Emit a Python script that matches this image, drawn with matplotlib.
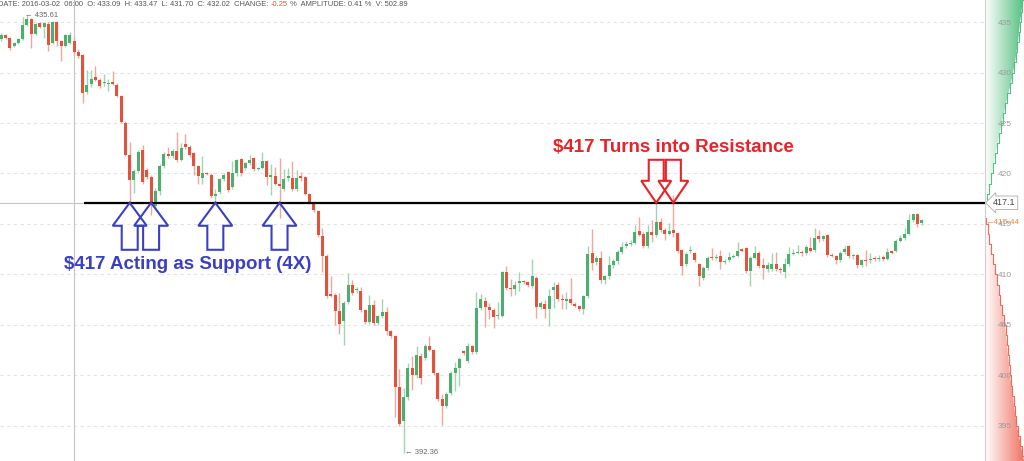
import numpy as np
import matplotlib.pyplot as plt
import matplotlib.transforms as mtransforms
from matplotlib.patches import Polygon
from matplotlib.colors import LinearSegmentedColormap

# OHLC de cada vela (216 velas)
opens = [
    433.3, 433.7, 433.4, 432.6, 432.9, 433.3, 434.7, 435.3, 433.8, 434.9,
    434.5, 434.8, 432.9, 435.0, 433.1, 432.6, 432.9, 433.09, 432.0, 431.7,
    428.1, 428.9, 429.6, 429.3, 428.95, 428.9, 429.05, 428.8, 427.7, 425.0,
    421.8, 419.4, 420.2, 422.3, 420.3, 419.7, 416.8, 418.3, 420.7, 421.9,
    421.7, 422.2, 421.3, 422.9, 422.6, 422.0, 420.7, 419.6, 420.05, 419.9,
    417.8, 418.2, 419.5, 420.1, 418.7, 420.0, 421.4, 420.5, 421.0, 421.5,
    420.45, 420.5, 421.2, 419.7, 419.8, 419.0, 418.5, 419.6, 419.6, 418.5,
    419.8, 419.7, 418.0, 417.2, 416.3, 413.8, 411.8, 408.1, 408.0, 406.4,
    405.4, 407.3, 409.0, 408.45, 408.4, 406.5, 405.3, 407.0, 405.2, 405.9,
    406.3, 404.4, 403.9, 398.9, 395.5, 397.9, 400.7, 400.0, 401.9, 401.7,
    402.9, 402.5, 400.2, 397.7, 397.0, 398.3, 400.2, 400.7, 402.4, 401.4,
    402.9, 402.3, 406.7, 407.4, 406.8, 406.5, 405.85, 405.9, 410.2, 408.7,
    408.6, 409.2, 409.35, 409.3, 408.9, 409.7, 406.8, 407.1, 406.6, 408.5,
    409.0, 407.6, 407.4, 407.6, 407.1, 406.9, 406.6, 407.9, 412.1, 411.2,
    411.6, 409.5, 409.8, 410.9, 411.3, 412.2, 412.8, 413.0, 413.1, 414.3,
    414.0, 412.8, 414.2, 413.9, 415.2, 414.4, 414.0, 414.4, 414.1, 412.4,
    411.0, 412.3, 412.1, 411.0, 409.7, 410.6, 411.75, 411.6, 411.8, 411.25,
    411.4, 411.75, 411.8, 412.5, 412.6, 410.3, 411.6, 412.1, 410.9, 410.5,
    410.5, 411.0, 410.55, 410.2, 411.0, 412.0, 412.15, 412.25, 412.1, 412.6,
    412.4, 413.8, 413.5, 413.9, 411.95, 411.8, 411.4, 412.2, 412.8, 411.8,
    411.9, 410.9, 411.45, 411.4, 411.6, 411.5, 411.7, 411.5, 412.3, 412.3,
    413.3, 413.6, 414.0, 415.4, 416.0, 415.1]
highs = [
    433.9, 433.8, 433.5, 433.0, 433.4, 435.5, 435.61, 435.4, 434.9, 435.0,
    435.0, 435.0, 435.1, 435.1, 433.2, 433.8, 434.0, 433.47, 432.3, 431.8,
    430.2, 430.2, 430.6, 429.5, 429.9, 429.4, 430.1, 429.0, 427.8, 425.2,
    423.1, 420.4, 422.3, 422.8, 420.5, 419.9, 418.6, 420.9, 422.1, 422.6,
    422.4, 424.1, 423.0, 423.9, 422.8, 422.1, 420.8, 421.7, 420.1, 420.0,
    418.5, 419.6, 420.0, 420.2, 421.2, 421.4, 421.5, 421.1, 421.8, 421.6,
    420.6, 422.1, 421.3, 420.9, 420.6, 421.5, 420.4, 420.5, 421.2, 420.3,
    420.1, 419.8, 418.1, 417.3, 416.4, 414.6, 412.0, 409.8, 408.2, 408.2,
    407.4, 410.1, 409.5, 408.8, 408.8, 406.6, 408.0, 407.5, 406.0, 407.6,
    406.8, 404.5, 404.0, 400.6, 398.8, 401.2, 401.9, 402.9, 402.2, 403.1,
    403.9, 402.6, 400.3, 398.2, 398.4, 400.4, 401.3, 401.8, 402.5, 403.2,
    403.0, 408.3, 408.1, 407.8, 407.2, 406.7, 407.3, 410.3, 410.8, 409.6,
    409.4, 410.2, 409.5, 409.4, 411.5, 409.8, 407.4, 407.5, 408.6, 409.3,
    409.3, 408.1, 408.3, 409.7, 407.3, 407.0, 408.0, 412.8, 414.5, 411.8,
    412.3, 409.9, 411.8, 411.5, 412.4, 413.2, 413.3, 413.4, 414.9, 415.7,
    414.2, 414.9, 415.4, 417.05, 415.6, 414.6, 415.1, 417.9, 414.2, 412.5,
    412.2, 412.8, 412.2, 411.1, 410.8, 411.8, 412.6, 412.0, 412.4, 411.5,
    412.2, 412.0, 413.2, 412.6, 412.7, 411.8, 412.8, 412.3, 411.6, 411.2,
    412.1, 412.2, 410.7, 411.6, 412.7, 412.5, 412.9, 412.4, 412.9, 413.7,
    414.6, 414.4, 413.9, 414.0, 412.1, 411.9, 412.3, 412.8, 412.9, 412.0,
    412.0, 411.5, 412.4, 412.1, 411.8, 411.9, 411.9, 412.6, 412.4, 413.5,
    413.9, 414.6, 416.0, 416.0, 416.1, 415.5]
lows = [
    433.1, 433.3, 432.2, 432.5, 432.8, 433.2, 434.6, 432.4, 433.7, 434.4,
    433.4, 432.1, 432.8, 432.6, 431.1, 432.5, 432.8, 431.70, 431.4, 427.0,
    427.9, 428.6, 429.2, 428.5, 428.7, 428.2, 428.8, 427.6, 425.0, 421.7,
    417.1, 418.1, 420.0, 419.0, 419.5, 415.9, 416.5, 417.9, 420.5, 421.5,
    421.5, 421.1, 421.2, 422.4, 421.6, 419.9, 419.0, 419.0, 419.9, 417.6,
    417.1, 418.0, 419.3, 418.2, 418.5, 419.8, 419.8, 420.3, 420.8, 420.2,
    420.3, 420.4, 418.9, 417.9, 418.9, 415.6, 418.3, 419.3, 418.3, 418.3,
    419.3, 417.9, 417.0, 416.2, 413.7, 410.2, 407.7, 407.8, 405.0, 404.1,
    403.0, 407.1, 408.0, 408.2, 406.3, 405.1, 405.1, 405.0, 405.0, 405.7,
    404.0, 403.7, 395.9, 395.0, 392.36, 397.6, 398.6, 399.7, 399.2, 401.5,
    402.4, 400.0, 397.5, 395.1, 396.8, 398.1, 398.5, 399.0, 402.0, 401.2,
    402.1, 402.1, 406.5, 404.8, 405.6, 404.7, 405.6, 405.8, 408.5, 407.9,
    408.0, 408.4, 409.1, 408.8, 408.7, 405.7, 406.6, 405.7, 404.9, 406.7,
    407.4, 406.6, 406.6, 407.0, 406.8, 406.4, 406.1, 407.7, 410.4, 410.9,
    409.2, 409.1, 409.6, 410.6, 411.0, 412.0, 412.6, 412.8, 413.0, 413.8,
    412.6, 412.6, 413.2, 413.7, 414.2, 413.4, 413.9, 413.7, 412.1, 409.9,
    410.8, 412.1, 411.2, 408.9, 409.5, 410.4, 411.4, 411.4, 410.5, 411.0,
    411.2, 411.6, 411.7, 412.2, 410.1, 408.9, 411.5, 410.6, 409.6, 410.2,
    410.3, 410.3, 410.1, 409.7, 410.8, 411.9, 412.0, 411.8, 411.9, 412.2,
    412.2, 413.2, 413.3, 411.7, 411.7, 411.0, 411.2, 412.0, 411.6, 411.5,
    410.6, 410.7, 410.8, 411.1, 411.3, 411.3, 411.3, 411.4, 412.0, 412.2,
    413.2, 413.4, 413.9, 415.2, 414.7, 414.9]
closes = [
    433.7, 433.4, 432.4, 432.9, 433.3, 434.7, 435.3, 433.8, 434.8, 434.5,
    434.9, 432.7, 435.0, 433.1, 432.6, 433.7, 433.7, 432.02, 431.6, 428.0,
    428.8, 429.4, 429.3, 428.7, 429.05, 429.0, 428.9, 427.7, 425.1, 421.8,
    419.4, 420.2, 422.1, 419.2, 419.7, 417.1, 418.3, 420.7, 421.9, 421.7,
    422.2, 421.3, 422.5, 422.65, 421.8, 420.7, 419.75, 420.0, 419.95, 417.8,
    418.0, 419.5, 419.9, 418.4, 420.0, 421.3, 420.0, 421.0, 421.3, 420.4,
    420.55, 421.2, 419.7, 419.85, 419.0, 418.8, 419.5, 419.8, 418.5, 419.6,
    419.6, 418.0, 417.2, 416.4, 413.9, 411.8, 407.9, 407.9, 406.4, 405.1,
    407.2, 409.0, 408.2, 408.55, 406.5, 405.3, 407.0, 405.2, 405.9, 406.3,
    404.4, 403.9, 398.9, 395.2, 397.9, 400.7, 400.0, 402.0, 399.7, 402.9,
    402.5, 400.2, 397.7, 397.0, 398.2, 400.2, 400.7, 401.6, 402.25, 402.9,
    402.3, 406.7, 407.6, 406.8, 406.5, 405.8, 405.95, 410.2, 408.7, 408.55,
    409.0, 409.35, 409.25, 409.0, 409.8, 406.8, 407.2, 406.6, 407.9, 408.8,
    407.6, 407.45, 407.6, 407.2, 406.9, 406.6, 407.9, 412.0, 411.1, 411.6,
    409.5, 409.8, 410.9, 411.3, 412.2, 412.7, 413.0, 413.1, 414.2, 413.9,
    412.8, 414.2, 413.9, 415.2, 414.4, 414.0, 414.3, 414.1, 412.3, 410.8,
    412.0, 412.45, 411.4, 409.8, 410.6, 411.6, 411.6, 411.75, 411.2, 411.35,
    411.7, 411.85, 412.3, 412.3, 410.3, 411.6, 412.1, 410.8, 410.6, 410.9,
    411.0, 410.5, 410.45, 411.0, 412.0, 412.1, 412.25, 412.15, 412.7, 412.3,
    413.6, 413.5, 413.8, 411.9, 411.85, 411.4, 412.1, 412.5, 411.8, 411.9,
    410.9, 411.4, 411.35, 411.5, 411.5, 411.65, 411.5, 412.2, 412.1, 413.3,
    413.6, 414.0, 415.4, 416.0, 415.0, 415.44]

# Profundidade do livro (lado direito)
ask_prices = [417.2, 418, 419, 420, 421, 422, 423, 424, 425, 426, 427,
              428, 429, 430, 431, 432, 433, 434, 435, 436, 437.2]
ask_depth = [0.8, 2.5, 4.5, 6.7, 8.5, 10.5, 12.5, 14.5, 16.7, 19, 21,
             23.5, 26, 28, 30, 31.5, 33, 34, 35, 36.5, 37.7]
bid_prices = [415.6, 415, 414, 413, 412, 411, 410, 409, 408, 407, 406, 405,
              404, 403, 402, 401, 400, 399, 398, 397, 396, 395, 394, 393,
              392, 391.5]
bid_depth = [0.5, 2, 3.5, 5, 7, 9, 11.5, 13, 14, 16, 18, 20, 21, 22, 23, 24,
             25, 26.5, 28, 29, 30.5, 32, 34, 36, 38, 39]

price_ticks = [395, 400, 405, 410, 415, 420, 425, 430, 435]
level = 417.1
support_idx = [30, 35, 50, 65]
resist_idx = [153, 157]
cursor_idx = 17

o = np.array(opens); h = np.array(highs); l = np.array(lows); c = np.array(closes)
x = np.arange(len(o))
up = c >= o

W, H = 1024, 461
fig = plt.figure(figsize=(W / 100, H / 100), dpi=100)
ax = fig.add_axes([0, 0, 985 / W, 1])
ax2 = fig.add_axes([985 / W, 0, 39 / W, 1])
ax.set_zorder(2); ax2.set_zorder(1)
ax.patch.set_alpha(0)

ymin, ymax = 391.53, 437.18
ax.set_xlim(-0.3, 229.8)
ax.set_ylim(ymin, ymax)

# grade pontilhada
for v in price_ticks:
    ax.axhline(v, color='#e4e4e4', lw=0.8, ls=(0, (3, 3)), zorder=0)

# cursor (crosshair)
ax.axvline(cursor_idx, color='#c4c4c4', lw=0.8, zorder=1)
ax.axhline(level, color='#c4c4c4', lw=0.8, zorder=1)

# velas
verde, vermelho = '#4cae6f', '#e2523d'
ax.vlines(x, l, h, colors=np.where(up, '#9fd6b0', '#f1a79c'), lw=1, zorder=2)
ax.bar(x, np.maximum(np.abs(c - o), 0.08), bottom=np.minimum(o, c), width=0.7,
       color=np.where(up, verde, vermelho), linewidth=0, zorder=3)

# linha de suporte/resistencia
ax.hlines(level, 19.3, 229.8, color='black', lw=1.6, zorder=4)

# setas
def seta(xi, pts, cor):
    tr = mtransforms.Affine2D() + mtransforms.ScaledTranslation(xi, level, ax.transData)
    ax.add_patch(Polygon(pts, closed=True, fill=False, edgecolor=cor, lw=1.5,
                         transform=tr, zorder=5))

seta_cima = [(0, 0), (17, -23), (8, -23), (8, -47), (-8, -47), (-8, -23), (-17, -23)]
seta_baixo = [(0, 0), (15, 22), (7.5, 22), (7.5, 43), (-7.5, 43), (-7.5, 22), (-15, 22)]
for i in support_idx:
    seta(i, seta_cima, '#3a3fc4')
for i in resist_idx:
    seta(i, seta_baixo, '#e8232a')

ax.text(43.6, 410.94, '$417 Acting as Support (4X)', color='#3a3fc4', fontsize=13.5,
        fontweight='bold', family='Liberation Sans', ha='center', va='center', zorder=6)
ax.text(156.9, 422.6, '$417 Turns into Resistance', color='#e8232a', fontsize=13.5,
        fontweight='bold', family='Liberation Sans', ha='center', va='center', zorder=6)

# max / min
imax, imin = int(np.argmax(h)), int(np.argmin(l))
ax.text(imax - 0.5, h[imax], '\u2190 %.2f' % h[imax], fontsize=5.5, color='#666666',
        ha='left', va='center', family='Liberation Sans')
ax.text(imin + 0.3, l[imin], '\u2190 %.2f' % l[imin], fontsize=5.5, color='#666666',
        ha='left', va='center', family='Liberation Sans')

# eixo de precos
ax.set_xticks([])
ax.set_yticks(price_ticks)
ax.yaxis.tick_right()
ax.tick_params(axis='y', length=0, pad=9, labelsize=6, labelcolor='#9a9a9a')
for lbl in ax.get_yticklabels():
    lbl.set_family('Liberation Sans')
for s in ['top', 'left', 'bottom']:
    ax.spines[s].set_visible(False)
ax.spines['right'].set_color('#cfcfcf')

# profundidade com gradiente
ax2.set_xlim(0, 39)
ax2.set_ylim(ymin, ymax)
ax2.axis('off')
grad = np.linspace(0, 1, 256).reshape(1, -1)
for precos, prof, cores, linha in [
        (ask_prices, ask_depth, ['#ffffff', '#52bf80'], '#55bf84'),
        (bid_prices, bid_depth, ['#ffffff', '#f27464'], '#ee6a5a')]:
    cm = LinearSegmentedColormap.from_list('g', cores)
    im = ax2.imshow(grad, extent=[0, 39, ymin, ymax], aspect='auto', cmap=cm,
                    origin='lower', zorder=1)
    poly = Polygon(list(zip([0] + prof + [0], [precos[0]] + precos + [precos[-1]])),
                   closed=True, facecolor='none', edgecolor='none', transform=ax2.transData)
    ax2.add_patch(poly)
    im.set_clip_path(poly)
    ax2.step(prof, precos, color=linha, lw=0.8, where='mid', zorder=2)
ax2.axvline(38.6, color='#f5b54a', lw=0.8)

ax2.text(8, level, '%.1f' % level, fontsize=6.5, color='#444444', va='center', ha='left',
         family='Liberation Sans', zorder=5,
         bbox=dict(boxstyle='larrow,pad=0.25', fc='white', ec='#aaaaaa', lw=0.6))
ax2.text(0.5, 415.15, '\u2190%.2f' % c[-1], fontsize=6, color='#f0843c', va='center',
         ha='left', family='Liberation Sans', zorder=5)

# cabecalho
fs = 5.4
cab = fig.text(-2 / W, 1 - 1.5 / H, 'DATE: 2016-03-02  06:00  O: %.2f  H: %.2f  L: %.2f  C: %.2f  CHANGE: '
               % (o[cursor_idx], h[cursor_idx], l[cursor_idx], c[cursor_idx]),
               fontsize=fs, color='#555555', va='top', ha='left', family='Liberation Sans')
t2 = ax.annotate('-0.25', xy=(1, 0), xycoords=cab, va='bottom', ha='left',
                 fontsize=fs, color='#e8503a', family='Liberation Sans')
ax.annotate(' %  AMPLITUDE: 0.41 %  V: 502.89', xy=(1, 0), xycoords=t2, va='bottom',
            ha='left', fontsize=fs, color='#555555', family='Liberation Sans')

fig.savefig('out.png', dpi=100)
